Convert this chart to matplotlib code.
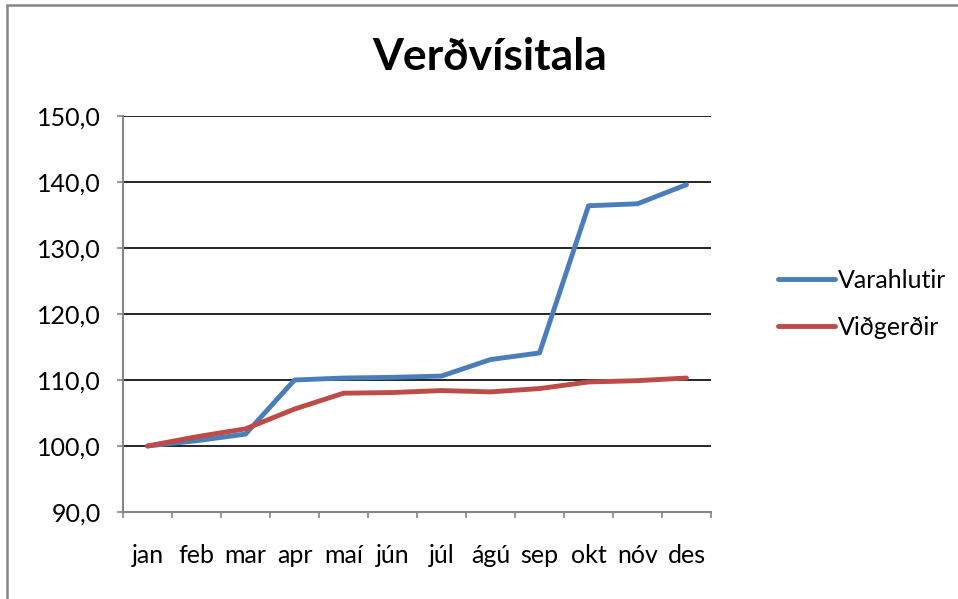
import matplotlib
matplotlib.use('Agg')
import matplotlib.pyplot as plt
from matplotlib.patches import Rectangle

plt.rcParams['font.family'] = ['Lato', 'DejaVu Sans']

months = ['jan', 'feb', 'mar', 'apr', 'maí', 'jún', 'júl', 'ágú', 'sep', 'okt', 'nóv', 'des']
varahlutir = [100.0, 100.8, 101.8, 110.0, 110.3, 110.4, 110.6, 113.1, 114.1, 136.4, 136.7, 139.6]
vidgerdir = [100.0, 101.4, 102.6, 105.6, 108.0, 108.1, 108.4, 108.2, 108.7, 109.7, 109.9, 110.3]
y_ticks = [90, 100, 110, 120, 130, 140, 150]

W, H = 958, 599
fig = plt.figure(figsize=(W / 100, H / 100), dpi=100)
ax = fig.add_axes([123 / W, 1 - 512 / H, (711 - 123) / W, (512 - 116) / H])

x = list(range(len(months)))
ax.plot(x, varahlutir, color='#4A7EBB', lw=3.5, label='Varahlutir', solid_capstyle='round')
ax.plot(x, vidgerdir, color='#BE4B48', lw=3.5, label='Viðgerðir', solid_capstyle='round')

ax.set_xlim(-0.5, len(months) - 0.5)
ax.set_ylim(90, 150)
ax.set_yticks(y_ticks)
ax.set_yticklabels([f'{v},0' for v in y_ticks], fontsize=18)
ax.set_xticks(x)
ax.set_xticklabels(months, fontsize=18)
ax.set_xticks([i - 0.5 for i in range(len(months) + 1)], minor=True)
ax.tick_params(axis='x', which='major', length=0, pad=23)
ax.tick_params(axis='x', which='minor', length=4.5, width=1.2, color='#868686')
ax.tick_params(axis='y', length=4, width=1.2, color='#868686', pad=12)
ax.grid(axis='y', color='black', lw=1.2)
ax.set_axisbelow(True)

for side in ['top', 'right']:
    ax.spines[side].set_visible(False)
for side in ['left', 'bottom']:
    ax.spines[side].set_color('#868686')
    ax.spines[side].set_linewidth(1.5)

fig.text(490 / W, 1 - 57 / H, 'Verðvísitala', fontsize=32, fontweight='bold',
         ha='center', va='center')

fig.legend(loc='center left', bbox_to_anchor=(755 / W, 1 - 304 / H), frameon=False,
           fontsize=18, handlelength=2.3, handletextpad=0.1, labelspacing=0.95)

# chart border (right and bottom edges fall outside the image)
fig.add_artist(Rectangle((7 / W, -0.1), 1.2, 1.1 - 5 / H, transform=fig.transFigure,
                         fill=False, edgecolor='#868686', lw=1.8))

fig.savefig('out.png', dpi=100)
